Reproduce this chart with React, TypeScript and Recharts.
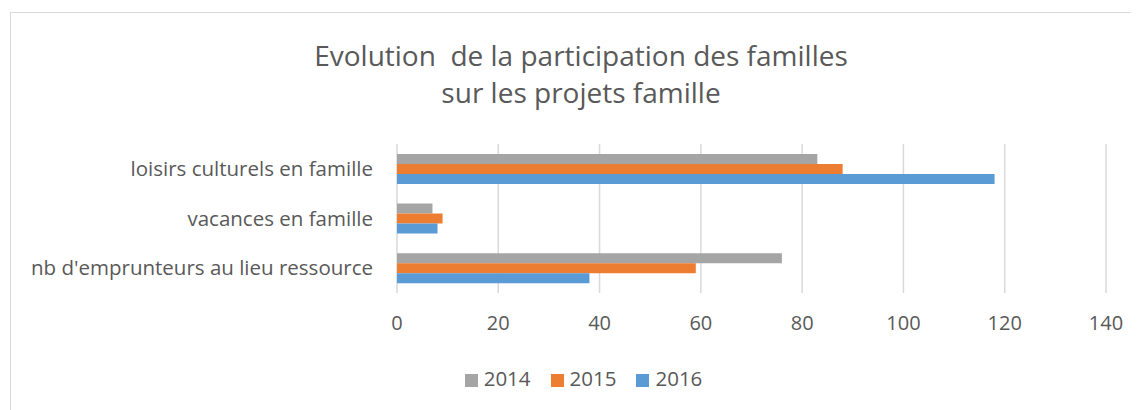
import React from "react";
import { BarChart, Bar, XAxis, YAxis, CartesianGrid, Legend } from "recharts";

const categories = [
  "loisirs culturels en famille",
  "vacances en famille",
  "nb d'emprunteurs au lieu ressource",
];
const values2014 = [83, 7, 76];
const values2015 = [88, 9, 59];
const values2016 = [118, 8, 38];
const xTicks = [0, 20, 40, 60, 80, 100, 120, 140];

const data = categories.map((name, i) => ({
  name,
  "2014": values2014[i],
  "2015": values2015[i],
  "2016": values2016[i],
}));

const FONT = "'Open Sans', sans-serif";
const TEXT = "#595959";

export default function App() {
  return (
    <div style={{ position: "relative", width: 1123, height: 402, overflow: "hidden", fontFamily: FONT }}>
      <style>{`html,body{overflow:hidden}`}</style>
      <div
        style={{
          position: "absolute",
          left: 2,
          top: 4,
          width: 1160,
          height: 420,
          border: "1px solid #d9d9d9",
          boxSizing: "border-box",
        }}
      />
      <div
        style={{
          position: "absolute",
          left: 0,
          top: 0,
          width: 1146,
          textAlign: "center",
          color: TEXT,
          fontSize: 28,
          lineHeight: "37px",
          paddingTop: 29,
        }}
      >
        <div>Evolution&nbsp; de la participation des familles</div>
        <div>sur les projets famille</div>
      </div>
      <div style={{ position: "absolute", left: 1, top: 5 }}>
        <BarChart
          width={1150}
          height={398}
          data={data}
          layout="vertical"
          margin={{ top: 131, right: 53, bottom: 17, left: 0 }}
          barCategoryGap="20%"
          barGap={0}
        >
          <CartesianGrid horizontal={false} stroke="#d9d9d9" strokeWidth={1.5} />
          <XAxis
            type="number"
            domain={[0, 140]}
            ticks={xTicks}
            interval={0}
            axisLine={false}
            tickLine={false}
            tickSize={0}
            tickMargin={23}
            height={71}
            tick={{ fill: TEXT, fontSize: 20, fontFamily: FONT }}
          />
          <YAxis
            type="category"
            dataKey="name"
            width={388}
            axisLine={false}
            tickLine={false}
            tickSize={0}
            tickMargin={24}
            tick={{ fill: TEXT, fontSize: 20.5, fontFamily: FONT }}
          />
          <Legend
            verticalAlign="bottom"
            height={30}
            iconType="square"
            iconSize={13}
            wrapperStyle={{ fontSize: 20.5, color: TEXT, fontFamily: FONT, left: 36 }}
            formatter={(v) => (
              <span style={{ color: TEXT, marginLeft: 2, marginRight: 10 }}>{v}</span>
            )}
          />
          <Bar dataKey="2014" fill="#A5A5A5" isAnimationActive={false} />
          <Bar dataKey="2015" fill="#ED7D31" isAnimationActive={false} />
          <Bar dataKey="2016" fill="#5B9BD5" isAnimationActive={false} />
        </BarChart>
      </div>
    </div>
  );
}
